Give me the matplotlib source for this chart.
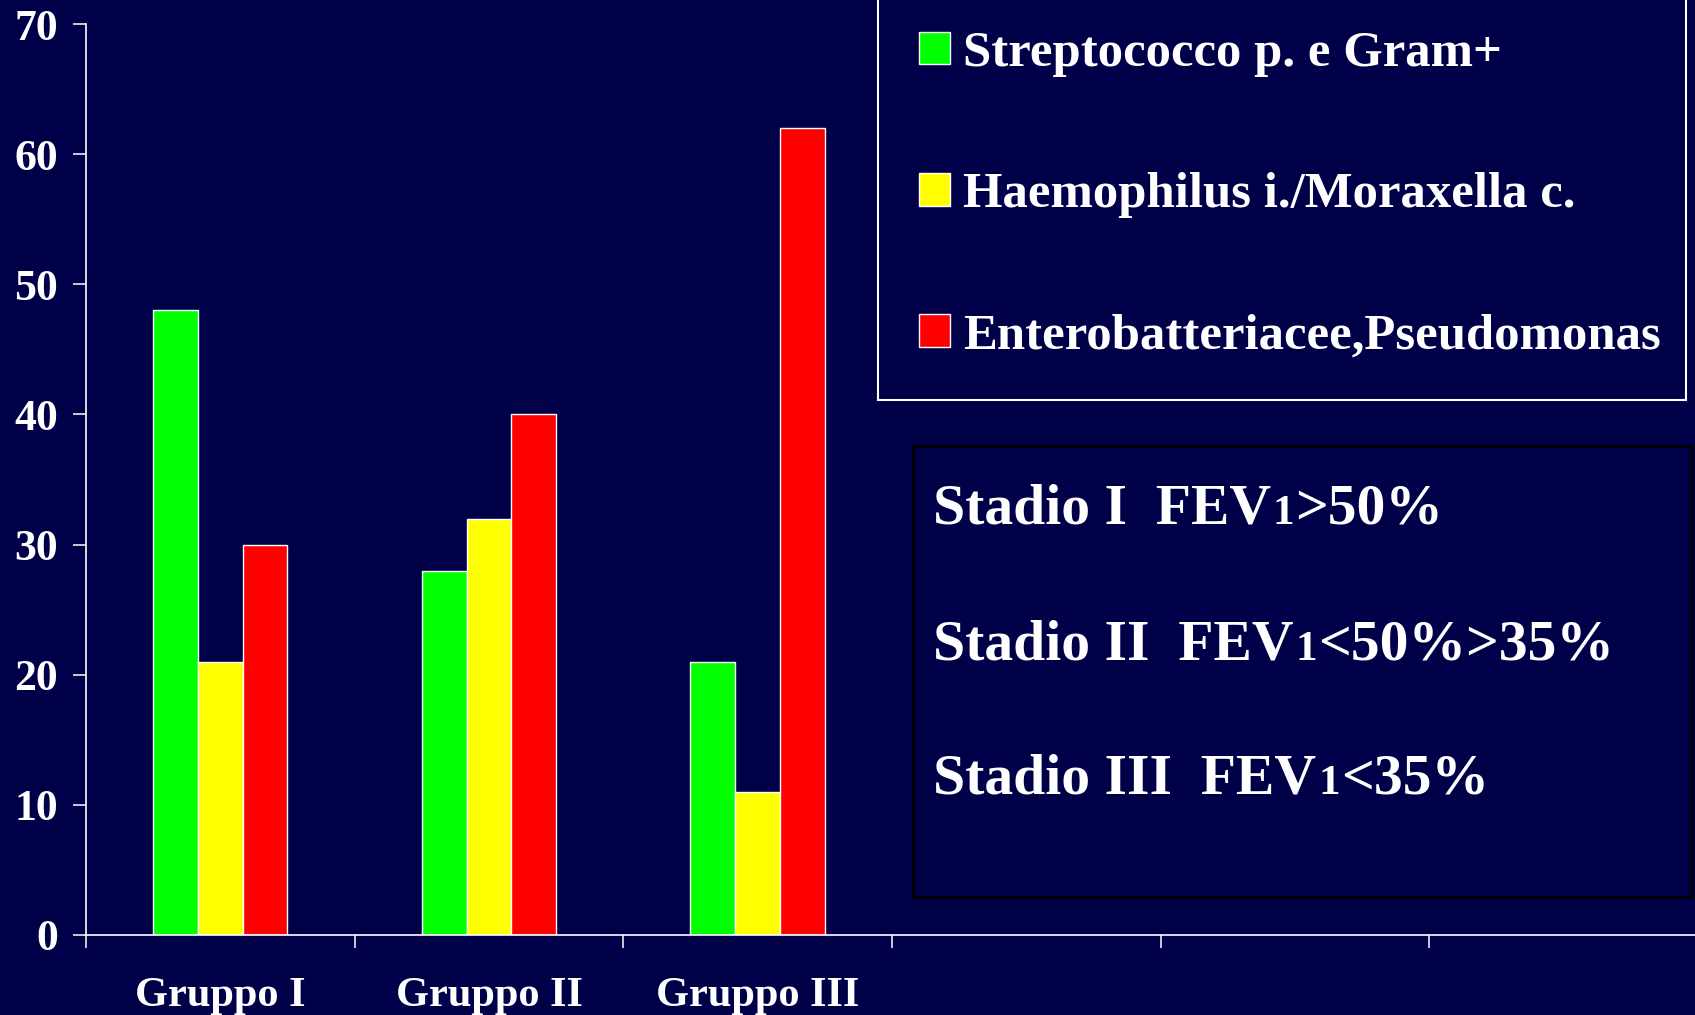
import matplotlib
matplotlib.use("Agg")
import matplotlib.pyplot as plt
from matplotlib.patches import Rectangle
import numpy as np

# ---- data ----
groups = ["Gruppo I", "Gruppo II", "Gruppo III"]
series_names = ["Streptococco p. e Gram+",
                "Haemophilus i./Moraxella c.",
                "Enterobatteriacee,Pseudomonas"]
strepto = [48, 28, 21]
haemo = [21, 32, 11]
entero = [30, 40, 62]
yticks = [0, 10, 20, 30, 40, 50, 60, 70]
stadio_lines = [("Stadio I  FEV", "1", ">50%"),
                ("Stadio II  FEV", "1", "<50%>35%"),
                ("Stadio III  FEV", "1", "<35%")]

# ---- style ----
plt.rcParams['font.family'] = ['Liberation Serif', 'DejaVu Serif']
plt.rcParams['font.weight'] = 'bold'
BG = "#000048"
colors = ["#00FF00", "#FFFF00", "#FF0000"]
W, H = 1695, 1015

fig = plt.figure(figsize=(W / 100, H / 100), dpi=100, facecolor=BG)
ax = fig.add_axes([86 / W, 80 / H, 1612 / W, 911 / H])
ax.set_facecolor(BG)

x = np.arange(len(groups)) + 0.5
bw = 1 / 6
bars = []
for i, (vals, name, c) in enumerate(zip([strepto, haemo, entero], series_names, colors)):
    b = ax.bar(x + (i - 1) * bw, vals, bw, color=c, edgecolor="white",
               linewidth=1.0, label=name)
    bars.append(b)

ax.set_xlim(0, 6)
ax.set_ylim(0, 70)
ax.set_yticks(yticks)
ax.set_xticks(np.arange(0, 6))
ax.set_xticklabels([])
ax.set_xticks(x, minor=True)
ax.set_xticklabels(groups, minor=True)

for s in ["top", "right"]:
    ax.spines[s].set_visible(False)
for s in ["left", "bottom"]:
    ax.spines[s].set_color("white")
    ax.spines[s].set_linewidth(1.2)

ax.tick_params(axis='y', length=9.4, width=1.1, color='white', pad=11,
               labelsize=31.5, labelcolor='white')
ax.tick_params(axis='x', which='major', length=9.4, width=1.1, color='white')
ax.tick_params(axis='x', which='minor', length=0, pad=30, labelsize=30.5,
               labelcolor='white')

# ---- legend ----
leg = fig.legend(handles=bars, labels=series_names, loc='lower left',
                 bbox_to_anchor=(878 / W, (H - 400) / H, 808 / W, 0.0),
                 bbox_transform=fig.transFigure, mode='expand',
                 borderaxespad=0, fontsize=36.5, frameon=True,
                 facecolor=BG, edgecolor='white', fancybox=False,
                 handlelength=0.62, handleheight=0.62, handletextpad=0.26,
                 labelspacing=1.88, borderpad=0.8, labelcolor='white')
leg.get_frame().set_linewidth(1.5)
leg.get_frame().set_alpha(None)

# ---- stadio box ----
box = Rectangle((913 / W, (H - 897) / H), 779 / W, 451 / H, transform=fig.transFigure,
                fill=False, edgecolor='black', linewidth=2)
fig.add_artist(box)

renderer = fig.canvas.get_renderer()
baselines = [524, 660, 794]
for (a, s, b), yb in zip(stadio_lines, baselines):
    y = (H - yb) / H
    t1 = fig.text(933 / W, y, a, fontsize=41.5, color='white', va='baseline', ha='left')
    e1 = t1.get_window_extent(renderer)
    t2 = fig.text(e1.x1 / W + 2 / W, y, s, fontsize=31, color='white', va='baseline', ha='left')
    e2 = t2.get_window_extent(renderer)
    fig.text(e2.x1 / W + 1 / W, y, b, fontsize=41.5, color='white', va='baseline', ha='left')

fig.savefig("out.png", dpi=100, facecolor=BG)
